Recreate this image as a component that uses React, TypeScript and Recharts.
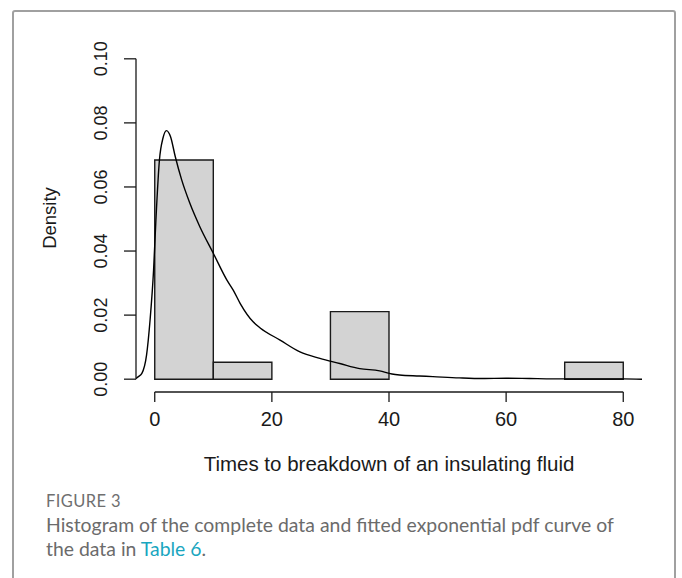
import React from 'react';
import { ComposedChart, Line, XAxis, YAxis, ReferenceArea, ReferenceLine } from 'recharts';

// histogram bins (width 10) and their densities
const binStart = [0, 10, 20, 30, 40, 50, 60, 70];
const binEnd = [10, 20, 30, 40, 50, 60, 70, 80];
const binDensity = [0.0684, 0.0053, 0, 0.0211, 0, 0, 0, 0.0053];

// kernel density estimate of the breakdown times
const curveX = [-3.2, -2.8, -2.2, -1.4, -0.8, -0.2, 0.2, 0.8, 1.4, 2.0, 2.7, 3.5, 4.6, 6.0, 7.7, 10.0, 12.3, 13.4, 14.6, 16.8, 18.0, 21.4, 24.8, 28.2, 31.6, 35.0, 38.4, 40.5, 41.8, 45.2, 47.5, 52, 56, 60, 64, 68, 72, 76, 80, 83.2];
const curveY = [0.0002, 0.0008, 0.0018, 0.0075, 0.0184, 0.034, 0.0497, 0.0684, 0.0752, 0.0776, 0.0757, 0.0695, 0.0622, 0.0549, 0.0476, 0.0393, 0.031, 0.0278, 0.0236, 0.0179, 0.016, 0.0122, 0.0085, 0.0065, 0.0049, 0.0033, 0.0026, 0.0016, 0.0013, 0.001, 0.0008, 0.0004, 0.0002, 0.0003, 0.0002, 0.0001, 0.0001, 0.0001, 0.0001, 0];

const xTicks = [0, 20, 40, 60, 80];
const yTicks = [0, 0.02, 0.04, 0.06, 0.08, 0.1];

const xDomain: [number, number] = [-3.2, 83.2];
const yDomain: [number, number] = [-0.004, 0.104];

const curveData = curveX.map((x, i) => ({ x, density: curveY[i] }));

const PLOT_FONT = '"Liberation Sans", Arial, sans-serif';
const CAPTION_FONT = 'Lato, "Open Sans", sans-serif';
const INK = '#1a1a1a';

const YTick = (props: any) => {
  const { x, y, payload } = props;
  const cx = x - 21;
  return (
    <text
      x={cx}
      y={y}
      transform={`rotate(-90 ${cx} ${y})`}
      textAnchor="middle"
      dominantBaseline="central"
      fontFamily={PLOT_FONT}
      fontSize={18}
      fill={INK}
    >
      {Number(payload.value).toFixed(2)}
    </text>
  );
};

const XTick = (props: any) => {
  const { x, y, payload } = props;
  return (
    <text x={x} y={y + 15} textAnchor="middle" dominantBaseline="central" fontFamily={PLOT_FONT} fontSize={20} fill={INK}>
      {payload.value}
    </text>
  );
};

export default function App() {
  return (
    <div style={{ position: 'absolute', left: 0, top: 0, width: 682, height: 578, overflow: 'hidden', background: '#fff' }}>
      <div
        style={{
          position: 'absolute',
          left: 12,
          top: 10,
          width: 664,
          height: 640,
          border: '2px solid #a0a0a0',
          borderRadius: 3,
          boxSizing: 'border-box',
        }}
      />
      <div style={{ position: 'absolute', left: 0, top: 0 }}>
        <ComposedChart width={682} height={578} data={curveData} margin={{ top: 46, right: 40, bottom: 146, left: 76 }}>
          <XAxis
            dataKey="x"
            type="number"
            domain={xDomain}
            allowDataOverflow
            ticks={xTicks}
            axisLine={false}
            tickLine={{ stroke: INK, strokeWidth: 1.3 }}
            tickSize={10}
            tick={<XTick />}
            height={40}
          />
          <YAxis
            type="number"
            domain={yDomain}
            allowDataOverflow
            ticks={yTicks}
            axisLine={false}
            tickLine={{ stroke: INK, strokeWidth: 1.3 }}
            tickSize={12}
            tick={<YTick />}
            width={60}
          />
          {binStart.map((s, i) => (
            <ReferenceArea
              key={s}
              x1={s}
              x2={binEnd[i]}
              y1={0}
              y2={binDensity[i]}
              fill="#d3d3d3"
              fillOpacity={1}
              stroke={INK}
              strokeWidth={1.4}
              ifOverflow="visible"
            />
          ))}
          <ReferenceLine
            segment={[{ x: xDomain[0], y: 0 }, { x: xDomain[0], y: 0.1 }]}
            stroke={INK}
            strokeWidth={1.3}
            ifOverflow="visible"
          />
          <ReferenceLine
            segment={[{ x: 0, y: yDomain[0] }, { x: 80, y: yDomain[0] }]}
            stroke={INK}
            strokeWidth={1.3}
            ifOverflow="visible"
          />
          <Line
            type="monotone"
            dataKey="density"
            stroke="#000"
            strokeWidth={1.4}
            dot={false}
            activeDot={false}
            isAnimationActive={false}
          />
        </ComposedChart>
      </div>
      <div
        style={{
          position: 'absolute',
          left: 50,
          top: 218,
          transform: 'translate(-50%, -50%) rotate(-90deg)',
          whiteSpace: 'nowrap',
          fontFamily: PLOT_FONT,
          fontSize: 18.5,
          color: INK,
        }}
      >
        Density
      </div>
      <div
        style={{
          position: 'absolute',
          left: 154,
          width: 470,
          top: 452,
          textAlign: 'center',
          whiteSpace: 'nowrap',
          fontFamily: PLOT_FONT,
          fontSize: 20.5,
          color: INK,
        }}
      >
        Times to breakdown of an insulating fluid
      </div>
      <div
        style={{
          position: 'absolute',
          left: 46,
          top: 491,
          fontFamily: CAPTION_FONT,
          fontSize: 16.5,
          color: '#6f6f6f',
          letterSpacing: 0.4,
        }}
      >
        FIGURE 3
      </div>
      <div
        style={{
          position: 'absolute',
          left: 46,
          top: 513,
          width: 625,
          whiteSpace: 'nowrap',
          fontFamily: CAPTION_FONT,
          fontSize: 19.4,
          lineHeight: '23.5px',
          color: '#6b6b6b',
        }}
      >
        Histogram of the complete data and fitted exponential pdf curve of
        <br />
        the data in <span style={{ color: '#1aa6bf' }}>Table 6</span>.
      </div>
    </div>
  );
}
